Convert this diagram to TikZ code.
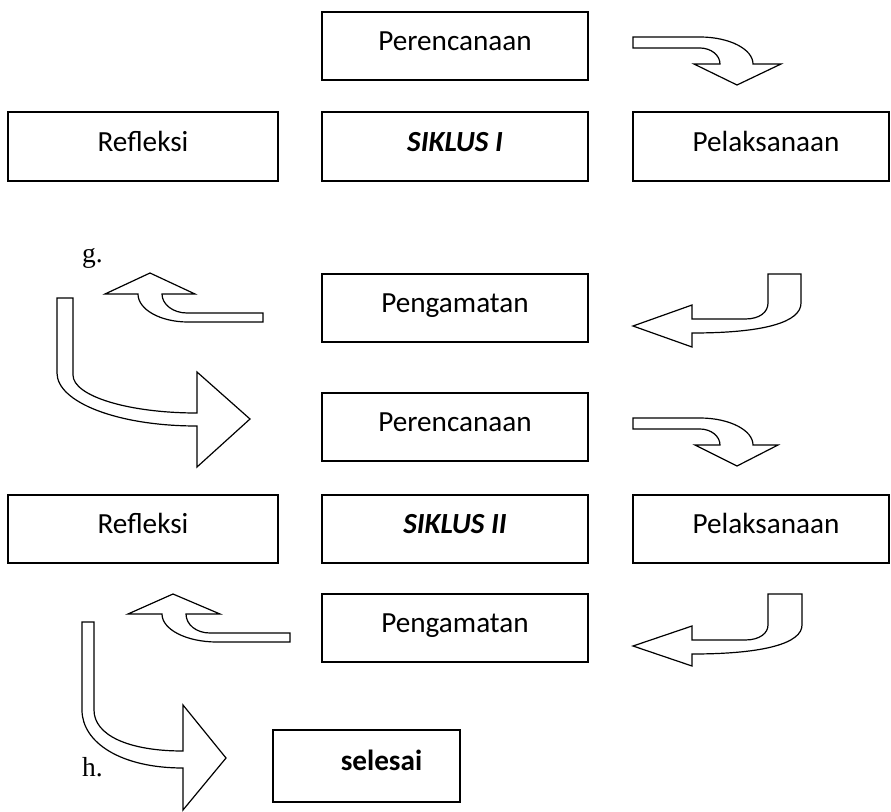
\documentclass[tikz,border=0pt]{standalone}
\usepackage{fontspec}
\setmainfont{Carlito}
\newfontfamily\timesf{Liberation Serif}
\begin{document}
\begin{tikzpicture}[x=1pt,y=-1pt,
  box/.style={draw, line width=1.5, inner sep=0, minimum height=68,
    text height=20, text depth=11, font=\fontsize{29.2}{34}\selectfont},
  wide/.style={minimum width=266},
  blk/.style={draw, line width=1.2, fill=white, line join=miter},
  lab/.style={font=\timesf\fontsize{27.5}{30}\selectfont, anchor=base west, inner sep=0}]
\useasboundingbox (0,0) rectangle (891,811);
% boxes round 1
\node[box,wide] (p1) at (455,46) {Perencanaan};
\node[box,minimum width=270,minimum height=69] (r1) at (143,146.5) {Refleksi};
\node[box,wide,minimum height=69] (s1) at (455,146.5) {\bfseries\itshape SIKLUS I};
\node[box,minimum width=256,minimum height=69] (l1) at (761,146.5) {\hspace*{10pt}Pelaksanaan};
\node[box,wide] (g1) at (455,308) {Pengamatan};
% boxes round 2
\node[box,wide] (p2) at (455,427) {Perencanaan};
\node[box,minimum width=270] (r2) at (143,529) {Refleksi};
\node[box,wide] (s2) at (455,529) {\bfseries\itshape SIKLUS II};
\node[box,minimum width=256] (l2) at (761,529) {\hspace*{10pt}Pelaksanaan};
\node[box,wide] (g2) at (455,628) {Pengamatan};
\node[box,minimum width=187,minimum height=72] (sel) at (366.5,766) {\hspace*{30pt}\bfseries selesai};
% labels
\node[lab] (lg) at (82,262) {g.};
\node[lab] (lh) at (82,776) {h.};
% A arrows (right then down)
\draw[blk] (633,37) -- (700,37) .. controls (729.3,37) and (753,49.1) .. (753,64)
  -- (781,64) -- (737,85) -- (694,64) -- (720,64)
  .. controls (720,55.2) and (711,48) .. (700,48) -- (633,48) -- cycle;
\draw[blk] (633,418) -- (700,418) .. controls (729.3,418) and (753,430.1) .. (753,445)
  -- (778,445) -- (737,466) -- (695,445) -- (720,445)
  .. controls (720,436.2) and (711,429) .. (700,429) -- (633,429) -- cycle;
% B arrows (left then up)
\draw[blk] (263,313) -- (187,313) .. controls (173.2,313) and (162,304.5) .. (162,294)
  -- (195,294) -- (150,273) -- (105,294) -- (138,294)
  .. controls (138,309.5) and (160.4,322) .. (188,322) -- (263,322) -- cycle;
\draw[blk] (290,633) -- (210,633) .. controls (196.2,633) and (186,624.5) .. (186,614)
  -- (220,614) -- (173,594) -- (128,614) -- (162,614)
  .. controls (162,629.5) and (186.4,642) .. (217,642) -- (290,642) -- cycle;
% C arrows (down then right)
\draw[blk] (57,298) -- (73,298) -- (73,375) .. controls (73,396) and (128,413) .. (197,413)
  -- (197,372) -- (250,419) -- (197,467) -- (197,426)
  .. controls (117,426) and (57,402) .. (57,373) -- cycle;
\draw[blk] (82,622) -- (94,622) -- (94,710) .. controls (94,735) and (128,751) .. (183,751)
  -- (183,705) -- (226,758) -- (183,810) -- (183,768)
  .. controls (120,768) and (82,742) .. (82,710) -- cycle;
% D arrows (down then left)
\draw[blk] (768,274) -- (801,274) -- (801,303) .. controls (801,322) and (765,333) .. (692,333)
  -- (692,347) -- (633,326) -- (692,305) -- (692,319) -- (745,319)
  .. controls (760,319) and (768,312) .. (768,303) -- cycle;
\draw[blk] (768,594) -- (802,594) -- (802,625) .. controls (802,643) and (765,654) .. (692,654)
  -- (692,666) -- (633,646) -- (692,626) -- (692,640) -- (745,640)
  .. controls (760,640) and (768,633) .. (768,625) -- cycle;
\end{tikzpicture}
\end{document}
